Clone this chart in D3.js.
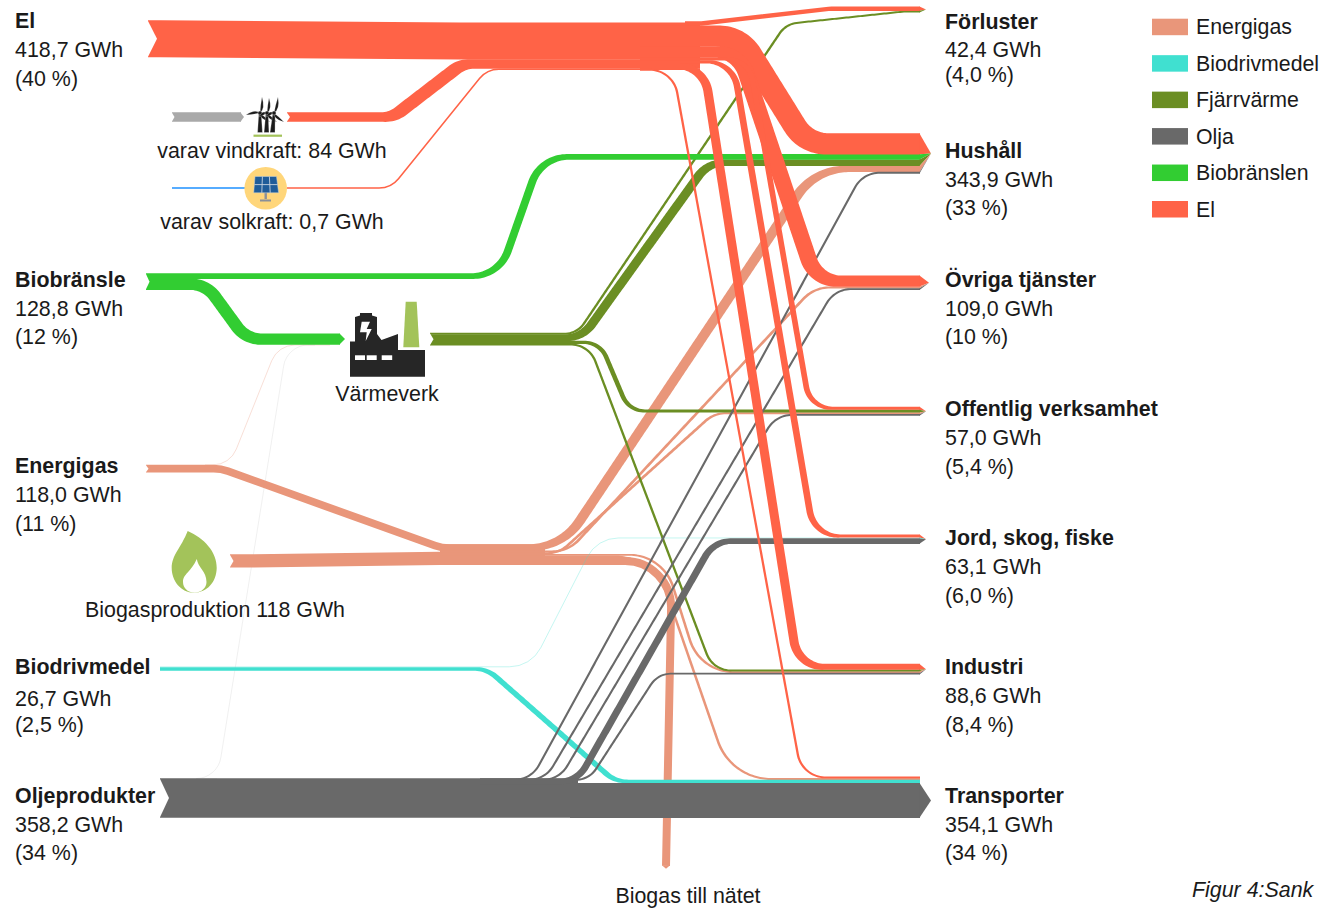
<!DOCTYPE html>
<html lang="sv">
<head>
<meta charset="utf-8">
<script src="https://cdn.jsdelivr.net/npm/d3@7/dist/d3.min.js"></script>
<style>
html,body{margin:0;padding:0;background:#fff;overflow:hidden}
svg{display:block}
text{font-family:"Liberation Sans",Arial,sans-serif;fill:#1a1a1a}
</style>
</head>
<body>
<svg id="c" width="1323" height="909"></svg>
<script>
// ---------- DATA (GWh) ----------
const legendKeys   = ["gas","drv","fjv","oil","bio","el"];
const legendLabels = ["Energigas","Biodrivmedel","Fjärrvärme","Olja","Biobränslen","El"];

// [from, to, GWh]
const elFlows  = [["elSrc","elHub",334],["windOut","elHub",84],["solarOut","elHub",0.7],
  ["elOut","forluster",38],["elOut","hushall",190],["elOut","ovriga",100],["elOut","offentlig",26],
  ["elOut","jord",26],["elOut","industri",52],["elOut","transport",14]];
const bioFlows = [["bioSrc","hushall",48],["bioSrc","vvIn",100]];
const fjvFlows = [["fjvOut","forluster",15],["fjvOut","hushall",58],["fjvOut","offentlig",25],["fjvOut","industri",15]];
const gasFlows = [["gasSrc","gasIn",67],["biogasSrc","gasIn",118],
  ["gasOut","hushall",55],["gasOut","ovriga",16],["gasOut","offentlig",16],
  ["gasOut","industri",14],["gasOut","transport",15],["gasOut","net",70]];
const drvFlows = [["drvSrc","jord",0.6],["drvSrc","transport",30]];
const oilFlows = [["oilSrc","oilHub",358.2],["oilPeel","hushall",14],["oilPeel","ovriga",14],["oilPeel","offentlig",14],
  ["oilPeel","jord",48],["oilPeel","industri",14],["oilHubOut","transport",316]];
const faintFlows = [["gasFaint","vvFaint",0.5,"gas"],["oilFaint","vvFaint",0.2,"oil"]];
const windInFlows  = [["windIn","windMill",84]];
const solarInFlows = [["solarIn","solarCell",0.7]];

const sourceLabels = [["El","418,7 GWh","(40 %)"],["Biobränsle","128,8 GWh","(12 %)"],["Energigas","118,0 GWh","(11 %)"],
  ["Biodrivmedel","26,7 GWh","(2,5 %)"],["Oljeprodukter","358,2 GWh","(34 %)"]];
const targetLabels = [["Förluster","42,4 GWh","(4,0 %)"],["Hushåll","343,9 GWh","(33 %)"],["Övriga tjänster","109,0 GWh","(10 %)"],
  ["Offentlig verksamhet","57,0 GWh","(5,4 %)"],["Jord, skog, fiske","63,1 GWh","(6,0 %)"],["Industri","88,6 GWh","(8,4 %)"],
  ["Transporter","354,1 GWh","(34 %)"]];
const noteLabels = ["varav vindkraft: 84 GWh","varav solkraft: 0,7 GWh","Värmeverk","Biogasproduktion 118 GWh","Biogas till nätet"];
const captionLabel = "Figur 4:Sank";

// ---------- LAYOUT ----------
const carrierColor = {el:"tomato",bio:"limegreen",fjv:"olivedrab",gas:"darksalmon",drv:"turquoise",oil:"dimgray",wind:"#a9a9a9",sun:"dodgerblue"};
const stackRank = {el:0,bio:1,fjv:2,gas:3,drv:4,oil:5,wind:6,sun:7};
const bandWidth = d3.scaleLinear().domain([0,418.7]).range([0,46]);
const minBand = 1.25;

// port tops, in pixels
const portTop = {elSrc:20.5,windOut:112.4,solarOut:187.4,elHub:22.7,elOut:21.5,bioSrc:273.5,vvIn:333.6,fjvOut:333,
  gasSrc:465,biogasSrc:554.5,gasIn:544.5,gasOut:544.5,drvSrc:666.3,oilSrc:778.3,oilHub:778.3,oilHubOut:783.1,
  forluster:6.6,hushall:133.4,ovriga:275.6,offentlig:406.8,jord:534.6,industri:664,transport:776.6,
  net:862,gasFaint:464.4,oilFaint:778,vvFaint:344.5,oilPeel:779,windIn:112.4,windMill:112.4,solarIn:187.4,solarCell:187.4};
const overlapping = new Set(["oilPeel","vvFaint","oilHub","net"]);

// route per "from>to": start x, bend x on start level, optional mids, bend x on end level, end x, corner radius
const routes = {
 "elSrc>elHub":{sx:148,x1:160,x2:460,tx:700,r:60},
 "windOut>elHub":{sx:287,x1:393,x2:462,tx:700,r:30},
 "solarOut>elHub":{sx:287,x1:391,x2:487,tx:700,r:25},
 "elOut>forluster":{sx:685,x1:700,x2:830,tx:920,r:25},
 "elOut>hushall":{sx:640,x1:739,x2:806,tx:920,r:38},
 "elOut>ovriga":{sx:640,x1:739,x2:816,tx:920,r:32},
 "elOut>offentlig":{sx:640,x1:749,x2:810,tx:920,r:26},
 "elOut>jord":{sx:640,x1:733,x2:814,tx:920,r:30},
 "elOut>industri":{sx:640,x1:704,x2:798,tx:920,r:30},
 "elOut>transport":{sx:640,x1:673,x2:802,tx:920,r:28},
 "bioSrc>hushall":{sx:146,x1:499,x2:541,tx:920,r:38},
 "bioSrc>vvIn":{sx:146,x1:206,x2:246,tx:340,r:30},
 "fjvOut>forluster":{sx:430,x1:577,mid:[[786,24],[903,11.6]],x2:915,tx:920,r:24},
 "fjvOut>hushall":{sx:430,x1:582,x2:708,tx:920,r:32},
 "fjvOut>offentlig":{sx:430,x1:600,x2:629,tx:920,r:24},
 "fjvOut>industri":{sx:430,x1:589,x2:713,tx:920,r:26},
 "gasSrc>gasIn":{sx:146,x1:221,x2:442,tx:545,r:42},
 "biogasSrc>gasIn":{sx:230,x1:240,x2:440,tx:545,r:60},
 "gasOut>hushall":{sx:440,x1:562,x2:815,tx:920,r:60},
 "gasOut>ovriga":{sx:440,x1:568,x2:814,tx:920,r:36},
 "gasOut>offentlig":{sx:440,x1:559,x2:714,tx:920,r:30},
 "gasOut>industri":{sx:440,x1:663,x2:700,tx:920,r:46},
 "gasOut>transport":{sx:440,x1:654,x2:731,tx:920,r:56},
 "gasOut>net":{sx:440,x1:672,tx:666,r:46,open:true},
 "drvSrc>jord":{sx:160,x1:531,x2:597,tx:920,r:35},
 "drvSrc>transport":{sx:160,x1:487,x2:615,tx:920,r:32},
 "oilSrc>oilHub":{sx:160,x1:300,x2:400,tx:578,r:10},
 "oilHubOut>transport":{sx:570,x1:640,x2:700,tx:920,r:10},
 "oilPeel>hushall":{sx:480,x1:531,x2:863,tx:920,r:28},
 "oilPeel>ovriga":{sx:480,x1:545,x2:835,tx:920,r:28},
 "oilPeel>offentlig":{sx:480,x1:559,x2:776,tx:920,r:28},
 "oilPeel>jord":{sx:480,x1:577,x2:714,tx:920,r:30},
 "oilPeel>industri":{sx:480,x1:589,x2:658,tx:920,r:24},
 "gasFaint>vvFaint":{sx:205,x1:230,x2:278,tx:330,r:25},
 "oilFaint>vvFaint":{sx:217,x1:217.5,x2:287,tx:315,r:25},
 "windIn>windMill":{sx:172,x1:190,x2:220,tx:241,r:5},
 "solarIn>solarCell":{sx:172,x1:190,x2:220,tx:246,r:5}
};
// bands swell along their diagonal stretch in the original drawing
const swell = {"elOut>hushall":1.1,"elOut>ovriga":1.45,"elOut>offentlig":1.8,"elOut>jord":2.1,"elOut>industri":1.5,"elOut>transport":1.25,
 "windOut>elHub":1.35,"bioSrc>hushall":1.4,"bioSrc>vvIn":1.1,
 "fjvOut>forluster":1.2,"fjvOut>hushall":1.35,"fjvOut>offentlig":1.5,"fjvOut>industri":1.2,
 "gasOut>hushall":1.55,"gasOut>ovriga":1.3,"gasOut>offentlig":1.3,"gasOut>industri":1.4,"gasOut>transport":1.3,
 "drvSrc>transport":1.5,"oilPeel>jord":1.25,"oilPeel>hushall":1.15,"oilPeel>ovriga":1.15,"oilPeel>offentlig":1.15,"oilPeel>industri":1.15};
const faintOpacity = {"drvSrc>jord":0.3,"gasFaint>vvFaint":0.3,"oilFaint>vvFaint":0.1};
const tipLength = {hushall:11,ovriga:9,offentlig:6,jord:6,industri:6,forluster:6,transport:11,vvIn:5,windMill:3};
const notchDepth = {elSrc:9,bioSrc:3.5,gasSrc:2.5,biogasSrc:3.5,oilSrc:9,fjvOut:3.5,windOut:3,windIn:2.5};

// ---------- BUILD LINKS ----------
const tag = (arr,c)=>arr.map(d=>({from:d[0],to:d[1],value:d[2],carrier:d[3]||c}));
const links = [].concat(tag(faintFlows),tag(gasFlows,"gas"),tag(drvFlows,"drv"),tag(fjvFlows,"fjv"),
  tag(oilFlows,"oil"),tag(bioFlows,"bio"),tag(elFlows,"el"),tag(windInFlows,"wind"),tag(solarInFlows,"sun"));
links.forEach(l=>{
  l.key=l.from+">"+l.to;
  l.w=Math.max(minBand,bandWidth(l.value));
  if(l.key==="gasFaint>vvFaint"||l.key==="oilFaint>vvFaint"||l.key==="drvSrc>jord") l.w=1;
});
const ports={};
function stack(name,key,compare){
  const g=d3.group(links,l=>l[name]);
  g.forEach((ls,p)=>{
    if(compare) ls=ls.slice().sort(compare);
    let y=portTop[p];
    ls.forEach(l=>{
      if(overlapping.has(p)){l[key]=y+l.w/2;}
      else{l[key]=y+l.w/2;y+=l.w;}
    });
    ports[p]={top:portTop[p],bottom:overlapping.has(p)?y+d3.max(ls,l=>l.w):y,links:ls};
  });
}
stack("from","sy");
stack("to","ty",(a,b)=>stackRank[a.carrier]-stackRank[b.carrier]);

function roundedPath(pts,r){
  const p=d3.path();
  p.moveTo(pts[0][0],pts[0][1]);
  for(let i=1;i<pts.length-1;i++) p.arcTo(pts[i][0],pts[i][1],pts[i+1][0],pts[i+1][1],r);
  const e=pts[pts.length-1];p.lineTo(e[0],e[1]);
  return p.toString();
}
function linkPath(l){
  const R=routes[l.key];
  const pts=[[R.sx,l.sy],[R.x1,l.sy]];
  (R.mid||[]).forEach(m=>pts.push(m));
  if(R.open){pts.push([R.tx,l.ty]);}
  else{pts.push([R.x2,l.ty],[R.tx,l.ty]);}
  return roundedPath(pts,R.r);
}

// ---------- DRAW ----------
const svg=d3.select("#c");
const probe=svg.append("path").attr("fill","none").node();
function ribbon(l){
  probe.setAttribute("d",linkPath(l));
  const L=probe.getTotalLength(),n=Math.ceil(L/2),samples=[];
  for(let i=0;i<=n;i++){
    const s=L*i/n,a=probe.getPointAtLength(Math.max(0,s-0.5)),b=probe.getPointAtLength(Math.min(L,s+0.5));
    const c=probe.getPointAtLength(s),dx=b.x-a.x,dy=b.y-a.y,m=Math.hypot(dx,dy)||1;
    samples.push({x:c.x,y:c.y,nx:-dy/m,ny:dx/m,steep:Math.abs(dy)/m});
  }
  const maxSteep=d3.max(samples,d=>d.steep)||1;
  const k=swell[l.key]-1;
  const half=d=>(l.w+0.3)*(1+k*d.steep/maxSteep)/2;
  const up=samples.map(d=>[d.x+d.nx*half(d),d.y+d.ny*half(d)]);
  const down=samples.map(d=>[d.x-d.nx*half(d),d.y-d.ny*half(d)]).reverse();
  return d3.line()(up.concat(down))+"Z";
}
const linkG=svg.append("g");
links.forEach(l=>{
  const color=carrierColor[l.carrier];
  if(swell[l.key]){
    linkG.append("path").attr("d",ribbon(l)).attr("fill",color);
  }else{
    linkG.append("path").attr("d",linkPath(l)).attr("fill","none").attr("stroke",color)
      .attr("stroke-width",faintOpacity[l.key]?l.w:l.w+0.3)
      .attr("stroke-opacity",faintOpacity[l.key]||1);
  }
});
probe.remove();

// arrow tips on end nodes
const tipG=svg.append("g");
Object.keys(tipLength).forEach(p=>{
  const port=ports[p]; if(!port) return;
  let ls=port.links;
  if(p==="transport") ls=ls.filter(l=>l.carrier==="oil");
  const top=d3.min(ls,l=>l.ty-l.w/2), bot=d3.max(ls,l=>l.ty+l.w/2);
  const mid=(top+bot)/2;
  ls.forEach(l=>{
    const x=routes[l.key].tx;
    tipG.append("path").attr("fill",carrierColor[l.carrier])
      .attr("d",d3.line()([[x-0.5,l.ty-l.w/2],[x+tipLength[p],mid],[x-0.5,l.ty+l.w/2]])+"Z");
  });
});
// pointed end of the grid-injection band
ports.net.links.forEach(l=>{
  const R=routes[l.key];
  tipG.append("path").attr("fill",carrierColor[l.carrier])
    .attr("d",d3.line()([[R.tx-l.w/2,l.ty-0.3],[R.tx,l.ty+3],[R.tx+l.w/2,l.ty-0.3]])+"Z");
});
// notches on start nodes
const notchG=svg.append("g").attr("fill","#fff");
Object.keys(notchDepth).forEach(p=>{
  const port=ports[p]; if(!port) return;
  const x=d3.min(port.links,l=>routes[l.key].sx);
  const t=d3.min(port.links,l=>l.sy-l.w/2)-0.5,b=d3.max(port.links,l=>l.sy+l.w/2)+0.5;
  notchG.append("path").attr("d",d3.line()([[x-0.5,t],[x+notchDepth[p],(t+b)/2],[x-0.5,b]])+"Z");
});

// ---------- ICONS ----------
const icons=svg.append("g");
// wind turbines
const turbines=[[260,113,260,[[-14,2],[2,-16],[10,9]]],[267,113,266.5,[[-8,4],[2,-15],[10,9]]],[274,113,272.5,[[-8,4],[4,-16],[10,9]]]];
turbines.forEach(([x,y,bx,blades])=>{
  icons.append("path").attr("fill","#1a1a1a").attr("stroke","#fff").attr("stroke-width",0.3)
    .attr("d",`M${x-1.2},${y} L${x+1.2},${y} L${bx+2.5},${y+19.5} L${bx-2.5},${y+19.5}Z`);
  blades.forEach(([dx,dy])=>{
    const t=5,L=Math.hypot(dx,dy),nx=-dy/L*t,ny=dx/L*t;
    icons.append("path").attr("fill","#1a1a1a").attr("stroke","#fff").attr("stroke-width",0.2)
      .attr("d",`M${x},${y} Q${x+dx*0.3+nx},${y+dy*0.3+ny} ${x+dx},${y+dy} Q${x+dx*0.5-nx*0.1},${y+dy*0.5-ny*0.1} ${x},${y}Z`);
  });
  icons.append("circle").attr("cx",x).attr("cy",y).attr("r",2.1).attr("fill","#1a1a1a").attr("stroke","#fff").attr("stroke-width",0.4);
});
icons.append("rect").attr("x",253.5).attr("y",134.6).attr("width",28.5).attr("height",2.2).attr("fill","#a3c35a");
// solar panel
icons.append("circle").attr("cx",265.7).attr("cy",188.3).attr("r",21.3).attr("fill","#ffd67a");
icons.append("path").attr("fill","#8a9099").attr("d","M264.5,192 h2.4 v7 h-2.4Z M260,199.5 h11 v2 h-11Z");
icons.append("path").attr("fill","#1f5c99").attr("stroke","#c8d4df").attr("stroke-width",0.5).attr("d","M255,176.5 L276.5,176.5 L278.6,192.8 L253.7,192.8Z");
icons.append("path").attr("fill","none").attr("stroke","#c8d4df").attr("stroke-width",0.9)
  .attr("d","M262.4,176.5 L261.8,192.8 M269.4,176.5 L270.2,192.8 M254.4,184.6 L277.6,184.6");
// factory
icons.append("path").attr("fill","#a3c35a").attr("d","M405.7,301.7 L416.7,301.7 L419.3,347.3 L403.3,347.3Z");
icons.append("path").attr("fill","#262626").attr("d","M350,376.7 L350,341.5 L355,341.5 L355,317 L360,315.5 L360,313 L372,313 L372,315.5 L377,317 L377,334 L381.5,340 L398,334 L398,350 L425,350 L425,376.7Z");
icons.append("path").attr("fill","#fff").attr("d","M361.7,321.7 L370,321.7 L366.7,329 L371.7,329 L365.7,341 L366.7,332.3 L360,332.3Z");
[355,366.7,381.7].forEach((x,i)=>icons.append("rect").attr("x",x).attr("y",355.3).attr("width",i===2?10.5:10).attr("height",4.7).attr("fill","#fff"));
// flame
icons.append("path").attr("fill","#a3c35a").attr("d","M187.7,531 C204,538 217,552 216.7,568 C216.5,582 207,592.7 194,592.7 C181,592.7 171.7,581 171.7,568 C171.7,555 181,548 187.7,531Z");
icons.append("path").attr("fill","#fff").attr("d","M196.8,559 C198,568 206.5,571 206.5,582 C206.5,588 201,592.7 194.5,592.7 C188,592.7 183,588 183,582 C183,574 191,572 196.8,559Z");

// ---------- TEXT ----------
const txt=svg.append("g");
const FS=21.4;
function block(x,lines,ys){
  lines.forEach((s,i)=>txt.append("text").attr("x",x).attr("y",ys[i]).attr("font-size",FS)
    .attr("font-weight",i===0?"bold":"normal").text(s));
}
const sourceY=[[28,57,86],[287,316,344],[473,502,531],[674,706,732],[803,832,860]];
const targetY=[[29,57,82],[158,187,215],[287,316,344],[416,445,474],[545,574,603],[674,703,732],[803,832,860]];
sourceLabels.forEach((l,i)=>block(15,l,sourceY[i]));
targetLabels.forEach((l,i)=>block(945,l,targetY[i]));
const notePos=[[272,157.5],[272,229],[387,401],[215,617],[688,903]];
noteLabels.forEach((s,i)=>txt.append("text").attr("x",notePos[i][0]).attr("y",notePos[i][1])
  .attr("text-anchor","middle").attr("font-size",FS).text(s));
txt.append("text").attr("x",1192).attr("y",897).attr("font-size",FS).attr("font-style","italic").text(captionLabel);

// ---------- LEGEND ----------
const legendY=d3.scalePoint().domain(legendKeys).range([18.7,201]);
const lg=svg.append("g").selectAll("g").data(legendKeys).join("g")
  .attr("transform",k=>`translate(1152,${legendY(k)})`);
lg.append("rect").attr("width",36).attr("height",16.5).attr("fill",k=>carrierColor[k]);
lg.append("text").attr("x",44).attr("y",15.5).attr("font-size",21.3).text((k,i)=>legendLabels[i]);
</script>
</body>
</html>
